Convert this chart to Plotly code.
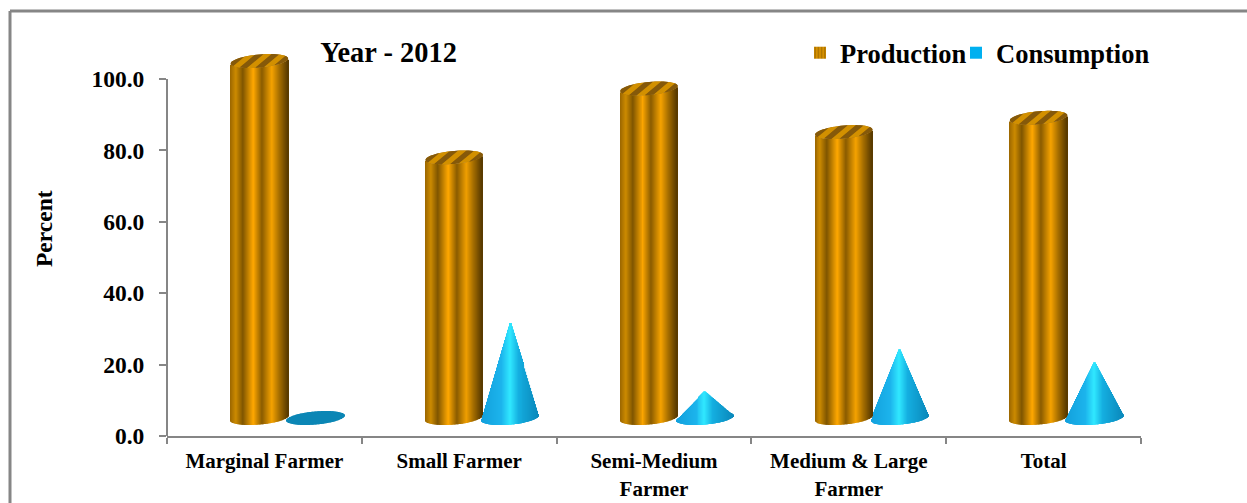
import numpy as np
import plotly.graph_objects as go

categories = ["Marginal Farmer", "Small Farmer", "Semi-Medium<br>Farmer", "Medium & Large<br>Farmer", "Total"]
production = [100.0, 73.0, 92.3, 80.1, 84.1]
consumption = [0.3, 27.1, 7.6, 19.6, 15.9]
y_ticks = [0, 20, 40, 60, 80, 100]

W, H = 1247, 503
L, R, T, B = 167, 1141, 40, 436
PX_X = (R - L) / 5
PX_Y = 3.57
FONT = "Liberation Serif"
GREY = "#868686"

FLOOR = 18 / PX_Y
HALF_W = 28.7 / PX_X
B_E = 6.5 / PX_Y
TILT = 2.5 / PX_Y
CYL_OFF = -5.0 / PX_X
CONE_OFF = 51 / PX_X
N = 58

gold = [(0, "#9a6600"), (.10, "#cc8a00"), (.22, "#7f5500"), (.40, "#ffa800"), (.55, "#8a5c00"),
        (.72, "#f5a200"), (.85, "#a56d00"), (1, "#553800")]
blue = [(0, "#12a0dc"), (.35, "#1cb4ec"), (.5, "#30e8ff"), (.65, "#14aee0"), (1, "#0a88bb")]


def ramp(stops, t):
    for (a, ca), (b, cb) in zip(stops, stops[1:]):
        if t <= b:
            f = (t - a) / (b - a)
            rgb = [round(int(ca[i:i + 2], 16) * (1 - f) + int(cb[i:i + 2], 16) * f) for i in (1, 3, 5)]
            return "rgb(%d,%d,%d)" % tuple(rgb)
    return stops[-1][1]


us = (np.arange(N) + .5) / N * 2 - 1
step = 2 * HALF_W / N * 1.15

# cylinders
cx, cb, ch, cc = [], [], [], []
for i, v in enumerate(production):
    c = i + 1 + CYL_OFF
    for u in us:
        front = FLOOR + TILT * u - B_E * np.sqrt(1 - u * u)
        cx.append(c + u * HALF_W)
        cb.append(front)
        ch.append(v)
        cc.append(ramp(gold, (u + 1) / 2))

fig = go.Figure()
fig.add_bar(x=cx, y=ch, base=cb, width=step, marker=dict(color=cc, line_width=0), showlegend=False, hoverinfo="skip")

# cones
kx, kb, kh, kc = [], [], [], []
for i, v in enumerate(consumption):
    c = i + 1 + CONE_OFF
    for u in us:
        r = np.sqrt(1 - u * u)
        kx.append(c + u * HALF_W)
        kb.append(FLOOR + TILT * u - B_E * r)
        kh.append(2 * B_E * r)
        kc.append("#0b86b5" if v < 1 else ramp(blue, (u + 1) / 2))
    if v >= 1:
        for u in us:
            front = FLOOR + TILT * u - B_E * np.sqrt(1 - u * u)
            top = FLOOR + v * (1 - abs(u)) + TILT * u
            kx.append(c + u * HALF_W)
            kb.append(front)
            kh.append(top - front)
            kc.append(ramp(blue, (u + 1) / 2))
fig.add_bar(x=kx, y=kh, base=kb, width=step, marker=dict(color=kc, line_width=0), showlegend=False, hoverinfo="skip")


def clip(poly, sign, p0):
    out = []
    f = lambda q: sign * (q[0] - 1.2 * q[1] - p0)
    for a, b in zip(poly, poly[1:] + poly[:1]):
        fa, fb = f(a), f(b)
        if fa >= 0:
            out.append(a)
        if fa * fb < 0:
            t = fa / (fa - fb)
            out.append((a[0] + t * (b[0] - a[0]), a[1] + t * (b[1] - a[1])))
    return out


# cylinder top faces with diagonal stripes
t = np.linspace(0, 2 * np.pi, 60, endpoint=False)
ell = [(28.7 * np.cos(a), 6.5 * np.sin(a) + 2.5 * np.cos(a)) for a in t]
edges = np.linspace(-36, 36, 10)
for i, v in enumerate(production):
    c = i + 1 + CYL_OFF
    y0 = FLOOR + v
    xs = [c + q[0] / PX_X for q in ell] + [None]
    ys = [y0 + q[1] / PX_Y for q in ell] + [None]
    fig.add_scatter(x=xs, y=ys, fill="toself", fillcolor="#a56d00", mode="none", showlegend=False, hoverinfo="skip")
    for j, (p0, p1) in enumerate(zip(edges, edges[1:])):
        poly = clip(clip(ell, 1, p0), -1, p1)
        if len(poly) < 3:
            continue
        col = "#85590a" if j % 2 else "#d29000"
        fig.add_scatter(x=[c + q[0] / PX_X for q in poly], y=[y0 + q[1] / PX_Y for q in poly],
                        fill="toself", fillcolor=col, mode="none", showlegend=False, hoverinfo="skip")

# legend entries, each in its own legend so they sit at the reference positions
fig.add_bar(x=[None], y=[None], name="Production", legend="legend",
            marker=dict(color="#cf8e00", line_width=0, pattern=dict(shape="|", fgcolor="#7a5200", bgcolor="#d69000", size=4, solidity=.4)))
fig.add_bar(x=[None], y=[None], name="Consumption", legend="legend2", marker=dict(color="#00b0f0", line_width=0))


def legend_at(px):
    return dict(x=(px - L) / (R - L), xanchor="left", y=1 - (53 - T) / (B - T), yanchor="middle",
                font=dict(size=26.5, family=FONT, color="black", weight="bold"), bgcolor="rgba(0,0,0,0)",
                itemclick=False, itemdoubleclick=False, borderwidth=0)


fig.update_layout(
    width=W, height=H, autosize=False,
    margin=dict(l=L, r=W - R, t=T, b=H - B, pad=0),
    paper_bgcolor="white", plot_bgcolor="white",
    barmode="overlay",
    font=dict(family=FONT, color="black"),
    title=dict(text="<b>Year - 2012</b>", x=388.5 / W, xanchor="center", y=1 - 52 / H, yanchor="middle",
               font=dict(size=28.4, family=FONT, color="black")),
    legend=legend_at(800),
    legend2=legend_at(956),
    xaxis=dict(range=[.5, 5.5], tickmode="array", tickvals=[1, 2, 3, 4, 5], ticktext=["<b>%s</b>" % c for c in categories],
               ticks="", showline=True, linecolor=GREY, linewidth=2, showgrid=False, zeroline=False, automargin=False,
               tickfont=dict(size=21, family=FONT, color="black"), ticklabelstandoff=5, tickangle=0,
               minor=dict(tickmode="array", tickvals=[.5, 1.5, 2.5, 3.5, 4.5, 5.5], ticks="outside", ticklen=6, tickwidth=2,
                          tickcolor=GREY, showgrid=False)),
    yaxis=dict(range=[0, (B - T) / PX_Y], tickmode="array", tickvals=y_ticks, ticktext=["<b>%.1f</b>" % v for v in y_ticks],
               ticks="outside", ticklen=7, tickwidth=2, tickcolor=GREY, showline=False, showgrid=False, zeroline=False,
               automargin=False, tickfont=dict(size=23.5, family=FONT, color="black"), ticklabelstandoff=10),
    shapes=[
        dict(type="line", xref="paper", yref="y", x0=0, x1=0, y0=0, y1=100, line=dict(color=GREY, width=2)),
        dict(type="line", xref="paper", yref="paper", x0=(10 - L) / (R - L), x1=(10 - L) / (R - L),
             y0=-.5, y1=(B - 11) / (B - T), line=dict(color=GREY, width=3)),
        dict(type="line", xref="paper", yref="paper", x0=(10 - L) / (R - L), x1=(W + 5 - L) / (R - L),
             y0=(B - 11) / (B - T), y1=(B - 11) / (B - T), line=dict(color=GREY, width=3)),
    ],
    annotations=[dict(text="<b>Percent</b>", xref="paper", yref="paper", x=(44 - L) / (R - L), y=(B - 228) / (B - T),
                      textangle=-90, showarrow=False, font=dict(size=23.5, family=FONT, color="black"),
                      xanchor="center", yanchor="middle")],
)

fig.write_html("out.html", config={"displayModeBar": False},
               post_script="document.body.style.margin='0';document.body.style.overflow='hidden';")
